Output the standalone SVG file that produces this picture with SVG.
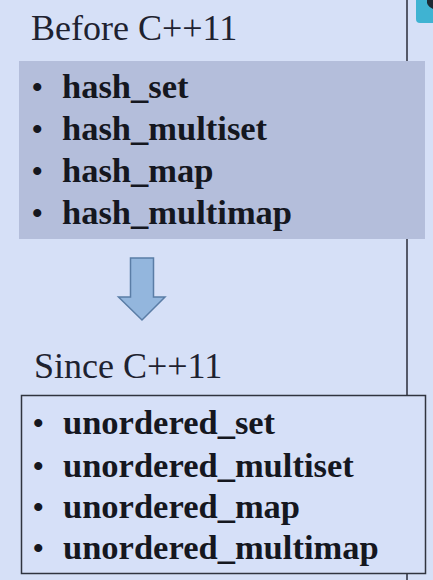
<svg xmlns="http://www.w3.org/2000/svg" width="433" height="580" viewBox="0 0 433 580">
<style>
.title{font-family:"Liberation Serif",serif;font-size:36px;fill:#1e2230}
.item{font-family:"Liberation Serif",serif;font-weight:bold;font-size:34.5px;fill:#15171f}
.bullet{font-family:"Liberation Serif",serif;font-weight:bold;font-size:30px;fill:#15171f}
</style>
<rect width="433" height="580" fill="#d6e0f7"/>
<line x1="407" y1="0" x2="407" y2="580" stroke="#2a2c3a" stroke-width="1.5"/>
<g id="corner">
<rect x="416" y="-6" width="24" height="29" rx="4" fill="#3fb3d2"/>
<path d="M433 0 L427 0 Q426 6 433 9 Z" fill="#1d2a33"/>
</g>
<g id="before">
<text class="title" x="31" y="40">Before C++11</text>
<rect x="19" y="61" width="406" height="178" fill="#b4bedb"/>
<text class="bullet" x="32" y="97">•</text><text class="item" x="62" y="98">hash_set</text>
<text class="bullet" x="32" y="139">•</text><text class="item" x="62" y="140">hash_multiset</text>
<text class="bullet" x="32" y="181">•</text><text class="item" x="62" y="182">hash_map</text>
<text class="bullet" x="32" y="223">•</text><text class="item" x="62" y="224">hash_multimap</text>
</g>
<g id="connectors">
<path d="M130.5 258 H153.5 V297 H165 L142 320 L118.5 297 H130.5 Z" fill="#93b6dd" stroke="#5a7da6" stroke-width="1.5" stroke-linejoin="miter"/>
</g>
<g id="since">
<text class="title" x="34" y="378">Since C++11</text>
<rect x="21.5" y="395.5" width="404" height="178" fill="#d6e0f8" stroke="#30343f" stroke-width="1.5"/>
<text class="bullet" x="33" y="433">•</text><text class="item" x="63" y="434">unordered_set</text>
<text class="bullet" x="33" y="476">•</text><text class="item" x="63" y="477">unordered_multiset</text>
<text class="bullet" x="33" y="517">•</text><text class="item" x="63" y="518">unordered_map</text>
<text class="bullet" x="33" y="558">•</text><text class="item" x="63" y="559">unordered_multimap</text>
</g>
</svg>
